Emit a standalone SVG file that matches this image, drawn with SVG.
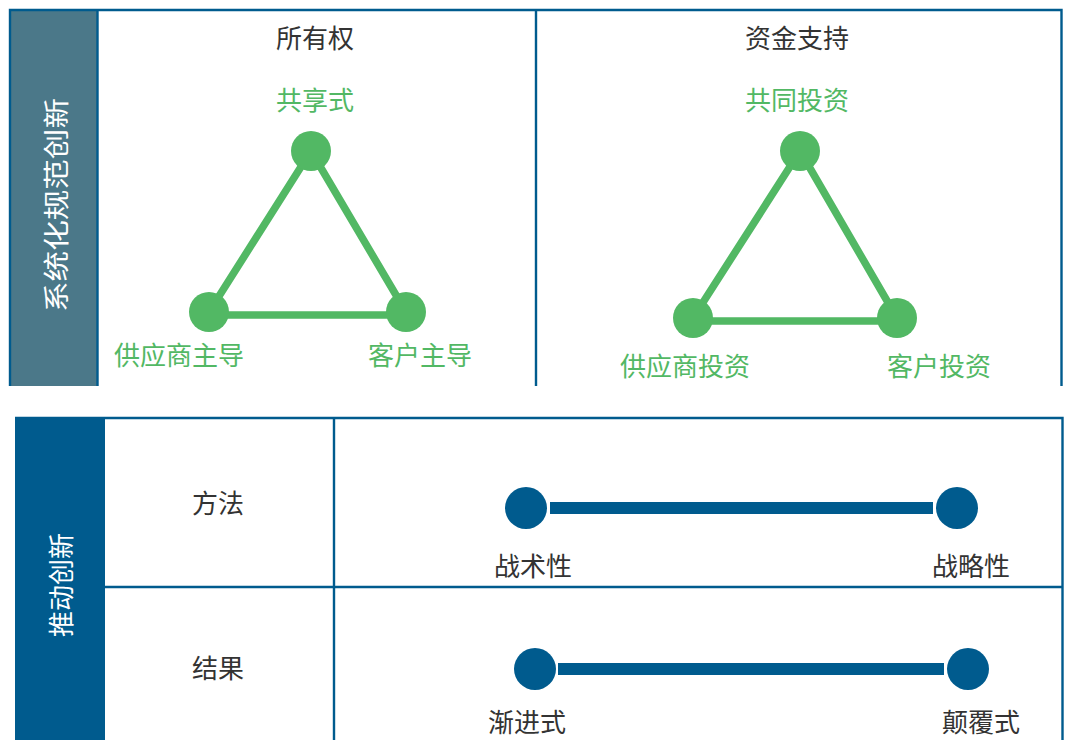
<svg xmlns="http://www.w3.org/2000/svg" width="1066" height="740" viewBox="0 0 1066 740">
<style>
text{font-family:"Noto Sans CJK SC","Noto Sans",sans-serif;font-size:26px;text-anchor:middle}
.dark{fill:#333333}
.green{fill:#52b864}
.white{fill:#ffffff}
.border{stroke:#005b8e;stroke-width:2.4;fill:none}
.gl{stroke:#52b864;stroke-width:7.5;fill:none}
.gn{fill:#52b864}
.bl{stroke:#005b8e;stroke-width:12;fill:none}
.bn{fill:#005b8e}
</style>
<rect width="1066" height="740" fill="#ffffff"/>
<g id="panel-top">
<rect x="10" y="10" width="87.5" height="376" fill="#4b7889"/>
<path class="border" d="M10 386 V10 H1061.5 V386 M97.5 10 V386 M536 10 V386"/>
<text class="white" transform="translate(66 205) rotate(-90)" textLength="214" lengthAdjust="spacingAndGlyphs">系统化规范创新</text>
<text class="dark" x="315" y="48">所有权</text>
<text class="dark" x="797" y="48">资金支持</text>
</g>
<g id="panel-bottom">
<rect x="15" y="418" width="90" height="322" fill="#005b8e"/>
<path class="border" d="M15 418 H1062.5 V740 M334 418 V740 M105 587 H1062.5"/>
<text class="white" transform="translate(71 585) rotate(-90)">推动创新</text>
<text class="dark" x="218" y="513">方法</text>
<text class="dark" x="218" y="678">结果</text>
</g>
<g id="connectors">
<path class="gl" d="M311 151 L209 312 M311 151 L406 312 M209 315 H406"/>
<path class="gl" d="M800 151 L693 318 M800 151 L897 318 M693 321 H897"/>
<path class="bl" d="M550 508 H933"/>
<path class="bl" d="M558 669 H944"/>
</g>
<g id="node-shared"><circle class="gn" cx="311" cy="151" r="20"/><text class="green" x="315" y="110">共享式</text></g>
<g id="node-supplier-led"><circle class="gn" cx="209" cy="312" r="20"/><text class="green" x="179" y="365">供应商主导</text></g>
<g id="node-customer-led"><circle class="gn" cx="406" cy="312" r="20"/><text class="green" x="420" y="365">客户主导</text></g>
<g id="node-co-invest"><circle class="gn" cx="800" cy="151" r="20"/><text class="green" x="797" y="110">共同投资</text></g>
<g id="node-supplier-invest"><circle class="gn" cx="693" cy="318" r="20"/><text class="green" x="685" y="376">供应商投资</text></g>
<g id="node-customer-invest"><circle class="gn" cx="897" cy="318" r="20"/><text class="green" x="939" y="376">客户投资</text></g>
<g id="node-tactical"><circle class="bn" cx="526" cy="508" r="21"/><text class="dark" x="533" y="576">战术性</text></g>
<g id="node-strategic"><circle class="bn" cx="957" cy="508" r="21"/><text class="dark" x="971" y="576">战略性</text></g>
<g id="node-incremental"><circle class="bn" cx="535" cy="669" r="21"/><text class="dark" x="527" y="732">渐进式</text></g>
<g id="node-disruptive"><circle class="bn" cx="968" cy="669" r="21"/><text class="dark" x="981" y="732">颠覆式</text></g>
</svg>
